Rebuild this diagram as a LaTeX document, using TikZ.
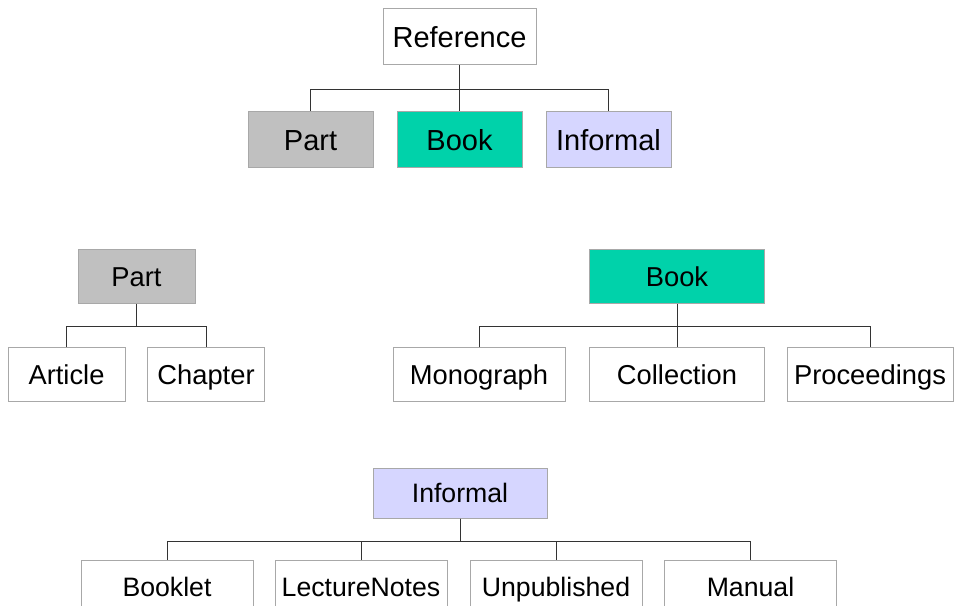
\documentclass[tikz,border=0pt]{standalone}
\usepackage{fontspec}
\setmainfont{Liberation Sans}
\usepackage{tikz}
\usetikzlibrary{positioning}

\definecolor{partgray}{HTML}{C0C0C0}
\definecolor{bookgreen}{HTML}{00D2AA}
\definecolor{informalblue}{HTML}{D6D6FF}
\definecolor{boxline}{HTML}{A8A8A8}
\definecolor{wire}{HTML}{333333}

\tikzset{
    box/.style={draw=boxline, line width=0.75pt, inner sep=0pt, fill=white,
        minimum height=40.5pt, text height=14.7pt, text depth=0pt,
        font=\fontsize{20.5}{24}\selectfont},
    topbox/.style={box, minimum width=93.75pt, minimum height=42pt,
        text height=15.5pt, font=\fontsize{21.75}{26}\selectfont},
    lowbox/.style={box, minimum width=129pt, text height=14.3pt,
        font=\fontsize{20}{24}\selectfont},
    wide/.style={minimum width=129pt},
    narrow/.style={minimum width=87.75pt},
    wire/.style={draw=wire, line width=0.75pt},
}

\begin{document}
\begin{tikzpicture}[x=0.75pt,y=-0.75pt]
    %%Background
    \useasboundingbox (0,0) rectangle (954,606);
    %%top level
    \node[topbox, minimum width=114.75pt] (ref) at (459.5,37) {Reference};
    \node[topbox, fill=partgray] (parttop) at (310.5,140) {Part};
    \node[topbox, fill=bookgreen] (booktop) at (459.5,140) {Book};
    \node[topbox, fill=informalblue] (informaltop) at (608.5,140) {Informal};

    \draw[wire] (ref.south) -- ++(0,24) -| (parttop.north);
    \draw[wire] (ref.south) -- (booktop.north);
    \draw[wire] (ref.south) -- ++(0,24) -| (informaltop.north);

    %%Part
    \node[box, narrow, fill=partgray] (part) at (136.5,276.5) {Part};
    \node[box, narrow] (article) at (66.5,374.5) {Article};
    \node[box, narrow] (chapter) at (206,374.5) {Chapter};

    \draw[wire] (part.south) -- ++(0,22.5) -| (article.north);
    \draw[wire] (part.south) -- ++(0,22.5) -| (chapter.north);

    %%Book
    \node[box, wide, minimum width=131.25pt, fill=bookgreen] (book) at (677,276.5) {Book};
    \node[box, wide] (monograph) at (479,374.5) {Monograph};
    \node[box, wide, minimum width=131.25pt] (collection) at (677,374.5) {Collection};
    \node[box, minimum width=124.5pt] (proceedings) at (870,374.5) {Proceedings};

    \draw[wire] (book.south) -- ++(0,22.5) -| (monograph.north);
    \draw[wire] (book.south) -- (collection.north);
    \draw[wire] (book.south) -- ++(0,22.5) -| (proceedings.north);

    %%Informal
    \node[lowbox, minimum width=130.5pt, minimum height=37.5pt, fill=informalblue] (informal) at (460,493) {Informal};
    \node[lowbox] (booklet) at (167,587) {Booklet};
    \node[lowbox] (lecturenotes) at (361,587) {LectureNotes};
    \node[lowbox] (unpublished) at (556,587) {Unpublished};
    \node[lowbox] (manual) at (750.5,587) {Manual};

    \draw[wire] (informal.south) -- ++(0,23) -| (booklet.north);
    \draw[wire] (informal.south) -- ++(0,23) -| (lecturenotes.north);
    \draw[wire] (informal.south) -- ++(0,23) -| (unpublished.north);
    \draw[wire] (informal.south) -- ++(0,23) -| (manual.north);
\end{tikzpicture}
\end{document}
